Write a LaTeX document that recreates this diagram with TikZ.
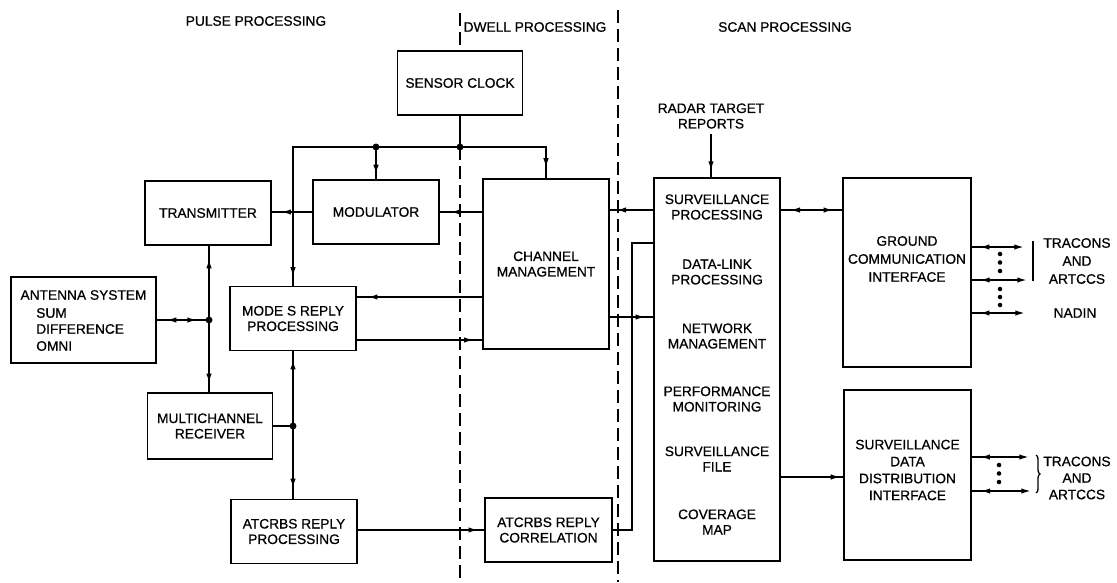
\documentclass[tikz,border=0pt]{standalone}
\usepackage{fontspec}
\setmainfont{Liberation Sans}
\newfontfamily\medfont{Liberation Sans}[FakeBold=0.6]
\usetikzlibrary{arrows.meta,decorations.markings,decorations.pathreplacing}
\begin{document}
\begin{tikzpicture}[x=0.75pt,y=-0.75pt,
  txt/.style={font=\medfont\fontsize{10.3}{11.6}\selectfont, align=center, inner sep=0pt},
  box/.style={draw, line width=1.1pt, minimum width=94.5pt, minimum height=48pt, inner sep=0pt, txt},
  conn/.style={line width=1.5pt},
  endarr/.style={-{Latex[length=8pt,width=4pt]}},
  fwd/.style={postaction={decorate, decoration={markings, mark=at position #1 with {\arrow{Latex[length=8pt,width=4pt]}}}}},
  bwd/.style={postaction={decorate, decoration={markings, mark=at position #1 with {\arrowreversed{Latex[length=8pt,width=4pt]}}}}},
  divider/.style={line width=1.5pt, dash pattern=on 9.75pt off 4.5pt}
]
\useasboundingbox[fill=white] (0,0) rectangle (1117,582);

% helper rows
\coordinate (r210) at (0,210);
\coordinate (r243) at (0,243);
\coordinate (r297) at (0,297);
\coordinate (r317) at (0,317);
\coordinate (r340) at (0,340);
\coordinate (r477) at (0,477);

% titles
\node[txt] (tpulse) at (256,21) {PULSE PROCESSING};
\node[txt] (tdwell) at (535,27) {DWELL PROCESSING};
\node[txt] (tscan) at (785,27) {SCAN PROCESSING};

% boxes
\node[box, minimum width=93.75pt] (SC) at (460,83) {SENSOR CLOCK};
\node[box] (TR) at (208,213) {TRANSMITTER};
\node[box] (MOD) at (376,212) {MODULATOR};
\node[box, minimum height=127.5pt] (CM) at (546,264) {CHANNEL\\MANAGEMENT};
\node[box, minimum width=108.75pt, minimum height=64.5pt] (ANT) at (83.5,320) {};
\node[txt] (antt) at (83.5,295) {ANTENNA SYSTEM};
\node[txt, anchor=west] (ant1) at (36,313) {SUM};
\node[txt, anchor=west] (ant2) at (36,329) {DIFFERENCE};
\node[txt, anchor=west] (ant3) at (36,346) {OMNI};
\node[box] (MS) at (293,318.5) {MODE S REPLY\\PROCESSING};
\node[box, minimum width=93.4pt, minimum height=49.5pt] (MR) at (210,426) {MULTICHANNEL\\RECEIVER};
\node[box] (ATP) at (294,531.5) {ATCRBS REPLY\\PROCESSING};
\node[box, minimum width=95.25pt] (ATC) at (548.5,530) {ATCRBS REPLY\\CORRELATION};
\node[box, minimum height=287.25pt] (SP) at (717,369.5) {};
\node[txt] (sp1) at (717,207) {SURVEILLANCE\\PROCESSING};
\node[txt] (sp2) at (717,272) {DATA-LINK\\PROCESSING};
\node[txt] (sp3) at (717,336) {NETWORK\\MANAGEMENT};
\node[txt] (sp4) at (717,399) {PERFORMANCE\\MONITORING};
\node[txt] (sp5) at (717,459) {SURVEILLANCE\\FILE};
\node[txt] (sp6) at (717,522) {COVERAGE\\MAP};
\node[box, minimum width=96pt, minimum height=141.75pt] (GCI) at (907,272.5) {};
\node[txt, font=\medfont\fontsize{10.3}{13.5}\selectfont] (gcit) at (907,259) {GROUND\\COMMUNICATION\\INTERFACE};
\node[box, minimum width=95.25pt, minimum height=127.5pt] (SDDI) at (907.5,475) {};
\node[txt, font=\medfont\fontsize{10.3}{12.7}\selectfont] (sddit) at (907.5,470) {SURVEILLANCE\\DATA\\DISTRIBUTION\\INTERFACE};
\node[txt] (RTR) at (711,116) {RADAR TARGET\\REPORTS};

% dividers
\draw[divider] (460,13) -- (SC.north);
\coordinate (j1) at (460,147);
\draw[divider] (j1) -- (460,582);
\draw[divider] (618,10) -- (618,582);

% junctions
\coordinate (j2) at (376,147);
\coordinate (j3) at (209,320);
\coordinate (j4) at (293,426);

% clock distribution
\draw[conn] (SC.south) -- (j1);
\draw[conn, fwd=0.92] (j1) -| (CM.north);
\draw[conn, fwd=0.974] (j1) -| (MS.north);
\draw[conn, fwd=0.88] (j2) -- (MOD.north);
\fill (j1) circle (2.6pt);
\fill (j2) circle (2.6pt);

% pulse section
\draw[conn, fwd=0.79] (MOD.west) -- (MOD.west -| TR.east);
\draw[conn, fwd=0.77] (CM.west |- MOD.east) -- (MOD.east);
\draw[conn, fwd=0.79, bwd=0.17] (ANT.east) -- (j3);
\draw[conn, fwd=0.84] (j3) -- (j3 |- TR.south);
\draw[conn, fwd=0.89] (j3) -- (j3 |- MR.north);
\fill (j3) circle (2.6pt);
\draw[conn] (MR.east) -- (j4);
\draw[conn, fwd=0.9] (j4) -- (MS.south);
\draw[conn, fwd=0.87] (j4) -- (j4 |- ATP.north);
\fill (j4) circle (2.6pt);
\draw[conn, fwd=0.92] (CM.west |- r297) -- (MS.east |- r297);
\draw[conn, fwd=0.94] (MS.east |- r340) -- (CM.west |- r340);
\draw[conn, fwd=0.96] (ATP.east |- ATC.west) -- (ATC.west);

% dwell / scan
\draw[conn] (ATC.east) -- ++(19,0) |- (SP.west |- r243);
\draw[conn, fwd=0.87] (SP.west |- r210) -- (CM.east |- r210);
\draw[conn, fwd=0.84] (CM.east |- r317) -- (SP.west |- r317);
\draw[conn, fwd=0.89, shorten <=4pt] (RTR.south) -- (RTR.south |- SP.north);
\draw[conn, fwd=0.87, bwd=0.14] (SP.east |- r210) -- (GCI.west |- r210);
\draw[conn, fwd=0.97] (SP.east |- r477) -- (SDDI.west |- r477);

% ground communication outputs
\coordinate (g1) at (1025,247);
\coordinate (g2) at (1028,280);
\coordinate (g3) at (1026,313);
\draw[conn, endarr, bwd=0.13] (GCI.east |- g1) -- (g1);
\draw[conn, endarr, bwd=0.13] (GCI.east |- g2) -- (g2);
\draw[conn, endarr, bwd=0.13] (GCI.east |- g3) -- (g3);
\foreach \yy in {254,262.5,271,289,297,305} \fill (1000,\yy) circle (1.7pt);
\draw[line width=1.2pt] (1033,241) -- (1033,281);
\node[txt, font=\medfont\fontsize{10.3}{13.5}\selectfont] (trac1) at (1077,261) {TRACONS\\AND\\ARTCCS};
\node[txt] (nadin) at (1075,313) {NADIN};

% surveillance data distribution outputs
\coordinate (s1) at (1030,457);
\coordinate (s2) at (1032,491);
\draw[conn, endarr, bwd=0.13] (SDDI.east |- s1) -- (s1);
\draw[conn, endarr, bwd=0.13] (SDDI.east |- s2) -- (s2);
\foreach \yy in {465,473.5,482} \fill (999,\yy) circle (1.7pt);
\draw[line width=1pt, decorate, decoration={brace, amplitude=3pt}] (1036,455) -- (1036,493);
\node[txt, font=\medfont\fontsize{10.3}{12.4}\selectfont] (trac2) at (1077,478) {TRACONS\\AND\\ARTCCS};
\end{tikzpicture}
\end{document}
